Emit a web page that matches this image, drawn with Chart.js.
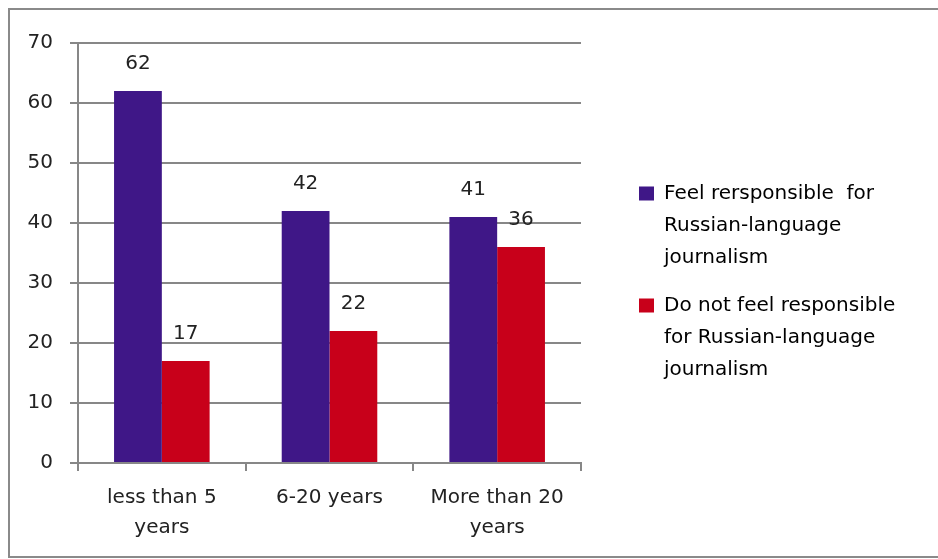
<!DOCTYPE html>
<html>
<head>
<meta charset="utf-8">
<script src="https://cdn.jsdelivr.net/npm/chart.js@4.4.1/dist/chart.umd.min.js"></script>
<style>
  html, body { margin: 0; padding: 0; background: #fff; overflow: hidden; }
  #frame {
    position: absolute; left: 8px; top: 8px;
    width: 940px; height: 546px;
    border: 2px solid #8a8a8a;
  }
  #myGraph { position: absolute; left: 0; top: 0; }
</style>
</head>
<body>
<div id="frame"><canvas id="myGraph" width="928" height="546"></canvas></div>
<script>
let categories = [['less than 5', 'years'], '6-20 years', ['More than 20', 'years']];
let feelResponsible = [62, 42, 41];
let notResponsible = [17, 22, 36];
let seriesNames = [
  ['Feel rersponsible  for', 'Russian-language', 'journalism'],
  ['Do not feel responsible', 'for Russian-language', 'journalism']
];
let yTicks = [0, 10, 20, 30, 40, 50, 60, 70];

const fontFamily = '"DejaVu Sans", sans-serif';
const fontSize = 20;
const gridColor = '#878787';
const plotRight = 571;   // right edge of the plot inside the canvas
const legendGap = 42;    // space between plot and legend
const legendRaise = 12;  // legend sits a little above centre

// numbers over the bars
const barLabels = {
  id: 'barLabels',
  afterDatasetsDraw(chart) {
    const ctx = chart.ctx;
    ctx.save();
    ctx.font = fontSize + 'px ' + fontFamily;
    ctx.fillStyle = '#222';
    ctx.textAlign = 'center';
    ctx.textBaseline = 'middle';
    chart.data.datasets.forEach((ds, i) => {
      chart.getDatasetMeta(i).data.forEach((bar, j) => {
        ctx.fillText(ds.data[j], bar.x, bar.y - 27);
      });
    });
    ctx.restore();
  }
};

// put the legend a fixed distance from the plot
const legendPlace = {
  id: 'legendPlace',
  afterLayout(chart) {
    const lg = chart.legend;
    if (!lg) return;
    const shift = chart.chartArea.right + legendGap - lg.left;
    lg.left += shift;
    lg.right += shift;
    lg.top -= legendRaise;
    lg.bottom -= legendRaise;
  }
};

function totalGraph() {
  const ctx = document.getElementById('myGraph').getContext('2d');
  const data = {
    labels: categories,
    datasets: [{
      label: seriesNames[0],
      data: feelResponsible,
      backgroundColor: '#3f1787',
      categoryPercentage: 0.57,
      barPercentage: 1.0
    },
    {
      label: seriesNames[1],
      data: notResponsible,
      backgroundColor: '#c8001a',
      categoryPercentage: 0.57,
      barPercentage: 1.0
    }]
  };
  new Chart(ctx, {
    type: 'bar',
    data: data,
    options: {
      responsive: false,
      animation: false,
      layout: { padding: { top: 33, left: 0, right: 0, bottom: 0 } },
      plugins: {
        tooltip: { enabled: false },
        legend: {
          position: 'right',
          maxWidth: 340,
          labels: {
            boxWidth: 15,
            boxHeight: 14,
            padding: 16,
            color: '#1a1a1a',
            font: { family: fontFamily, size: fontSize, lineHeight: 32 / fontSize },
            generateLabels(chart) {
              return chart.data.datasets.map((ds, i) => ({
                text: ds.label,
                fillStyle: ds.backgroundColor,
                strokeStyle: ds.backgroundColor,
                lineWidth: 0,
                datasetIndex: i
              }));
            }
          }
        }
      },
      scales: {
        x: {
          grid: { drawOnChartArea: false, drawTicks: true, tickLength: 8, color: gridColor, lineWidth: 2 },
          border: { color: gridColor, width: 2 },
          ticks: {
            color: '#222', padding: 12,
            font: { family: fontFamily, size: fontSize, lineHeight: 30 / fontSize }
          },
          afterFit(s) { s.height = 93; }
        },
        y: {
          min: 0, max: 70,
          afterBuildTicks(s) { s.ticks = yTicks.map(v => ({ value: v })); },
          grid: { color: gridColor, lineWidth: 2, tickLength: 8 },
          border: { color: gridColor, width: 2 },
          ticks: {
            color: '#222', padding: 17,
            font: { family: fontFamily, size: fontSize }
          },
          afterFit(s) { s.width = 68; }
        },
        gap: {
          position: 'right',
          display: true,
          grid: { display: false },
          border: { display: false },
          ticks: { display: false },
          afterFit(s) {
            const legendW = s.chart.legend ? s.chart.legend.width : 0;
            s.width = Math.max(0, s.chart.width - plotRight - legendW);
          }
        }
      }
    },
    plugins: [barLabels, legendPlace]
  });
}
totalGraph();
</script>
</body>
</html>
